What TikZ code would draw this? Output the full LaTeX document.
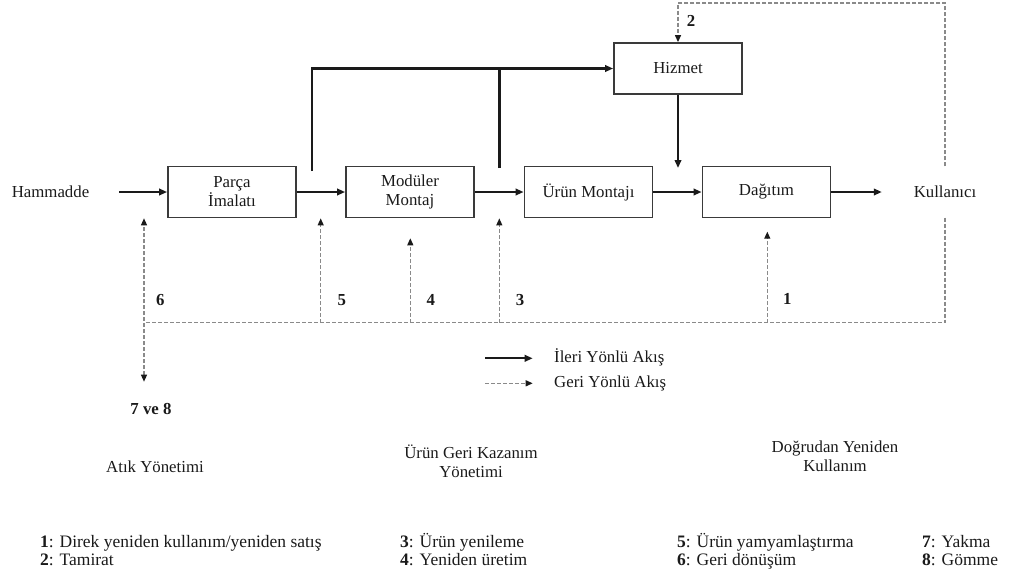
\documentclass[tikz,border=0pt]{standalone}
\usepackage{fontspec}
\setmainfont{Liberation Serif}
\usetikzlibrary{arrows.meta,calc}
\definecolor{boxline}{HTML}{3A3A3A}
\definecolor{dashgray}{HTML}{8A8A8A}
\definecolor{ink}{HTML}{1A1A1A}
\begin{document}
\begin{tikzpicture}[x=1pt,y=-1pt,
  every node/.style={font=\fontsize{16.8}{19}\selectfont, text=ink},
  proc/.style={draw=boxline, line width=1.8pt, minimum width=128pt, minimum height=51pt, align=center, inner sep=0pt},
  plain/.style={minimum width=126pt, minimum height=51pt, align=center, inner sep=0pt},
  fwd/.style={draw=ink, line width=2.1pt, -{Triangle[length=8pt,width=6.5pt]}},
  fline/.style={draw=ink, line width=2.1pt},
  bwd/.style={draw=dashgray, line width=1.2pt, dash pattern=on 4pt off 2pt, -{Triangle[length=7pt,width=6pt,color=ink]}},
  bboth/.style={draw=dashgray, line width=1.2pt, dash pattern=on 4pt off 2pt, {Triangle[length=7pt,width=6pt,color=ink]}-{Triangle[length=7pt,width=6pt,color=ink]}},
  bline/.style={draw=dashgray, line width=1.2pt, dash pattern=on 4pt off 2pt},
  num/.style={font=\fontsize{16.8}{19}\selectfont\bfseries},
  leg/.style={font=\fontsize{17.5}{19}\selectfont, anchor=base west, inner sep=0pt},
]
\useasboundingbox (0,0) rectangle (1024,571);

% main nodes
\node[plain] (ham) at (50.5,192) {Hammadde};
\node[proc] (parca) at (232,192) {Parça\\İmalatı};
\node[proc] (modul) at (410,192) {Modüler\\Montaj};
\node[proc] (urun) at (588.5,192) {Ürün Montajı};
\node[proc] (dagitim) at (766.5,192) {Dağıtım};
\node[proc] (hizmet) at (678,68.5) {Hizmet};
\node[plain] (kul) at (945,192) {Kullanıcı};

% forward flows
\draw[fwd] ([xshift=5.5pt]ham.east) -- (parca.west);
\draw[fwd] (parca.east) -- (modul.west);
\draw[fwd] (modul.east) -- (urun.west);
\draw[fwd] (urun.east) -- (dagitim.west);
\draw[fwd] (dagitim.east) -- (kul.west);

\coordinate (t1) at (312,171);
\coordinate (t2) at (499.5,168);
\coordinate (hd) at (678,168);
\draw[fwd] (t1) |- (hizmet.west);
\draw[fline] (t2) -- (t2 |- hizmet.west);
\draw[fwd] (hizmet.south) -- (hd);

% backward flows
\coordinate (ctop) at (945,3);
\draw[bwd] (kul.north) -- (ctop) -| (hizmet.north);
\node[num] (n2) at (691,20.7) {2};

\coordinate (bl) at (144,322.5);
\draw[bline] (kul.south) |- (bl);
\coordinate (btop) at (144,218.3);
\coordinate (bbot) at (144,381.7);
\draw[bboth] (bbot) -- (btop);

\coordinate (b5) at (320.7,322.5);
\coordinate (b4) at (410.3,322.5);
\coordinate (b3) at (499.3,322.5);
\coordinate (b1) at (767.3,322.5);
\coordinate (b4t) at (410.3,238.3);
\coordinate (b1t) at (767.3,231.7);
\draw[bwd] (b5) -- (b5 |- modul.south);
\draw[bwd] (b4) -- (b4t);
\draw[bwd] (b3) -- (b3 |- urun.south);
\draw[bwd] (b1) -- (b1t);

\node[num] (n6) at (160.3,300) {6};
\node[num] (n5) at (341.7,300) {5};
\node[num] (n4) at (430.7,300) {4};
\node[num] (n3) at (520,300) {3};
\node[num] (n1) at (787.3,299.3) {1};
\node[num] (n78) at (151,409) {7 ve 8};

% legend
\node[anchor=west, inner sep=0pt] (l1) at (554,357) {İleri Yönlü Akış};
\node[anchor=west, inner sep=0pt] (l2) at (554,383) {Geri Yönlü Akış};
\coordinate (la1) at (485,358.3);
\coordinate (la2) at (532.7,358.3);
\coordinate (lb1) at (485,383.3);
\coordinate (lb2) at (532.7,383.3);
\draw[fwd] (la1) -- (la2);
\draw[bwd] (lb1) -- (lb2);

% categories
\node (c1) at (155,467) {Atık Yönetimi};
\node[align=center] (c2) at (471,461) {Ürün Geri Kazanım\\Yönetimi};
\node[align=center] (c3) at (835,456.5) {Doğrudan Yeniden\\Kullanım};

% bottom legend
\node[leg] (k1) at (40,547) {\textbf{1}: Direk yeniden kullanım/yeniden satış};
\node[leg] (k2) at (40,565) {\textbf{2}: Tamirat};
\node[leg] (k3) at (400,547) {\textbf{3}: Ürün yenileme};
\node[leg] (k4) at (400,565) {\textbf{4}: Yeniden üretim};
\node[leg] (k5) at (677,547) {\textbf{5}: Ürün yamyamlaştırma};
\node[leg] (k6) at (677,565) {\textbf{6}: Geri dönüşüm};
\node[leg] (k7) at (922,547) {\textbf{7}: Yakma};
\node[leg] (k8) at (922,565) {\textbf{8}: Gömme};
\end{tikzpicture}
\end{document}
